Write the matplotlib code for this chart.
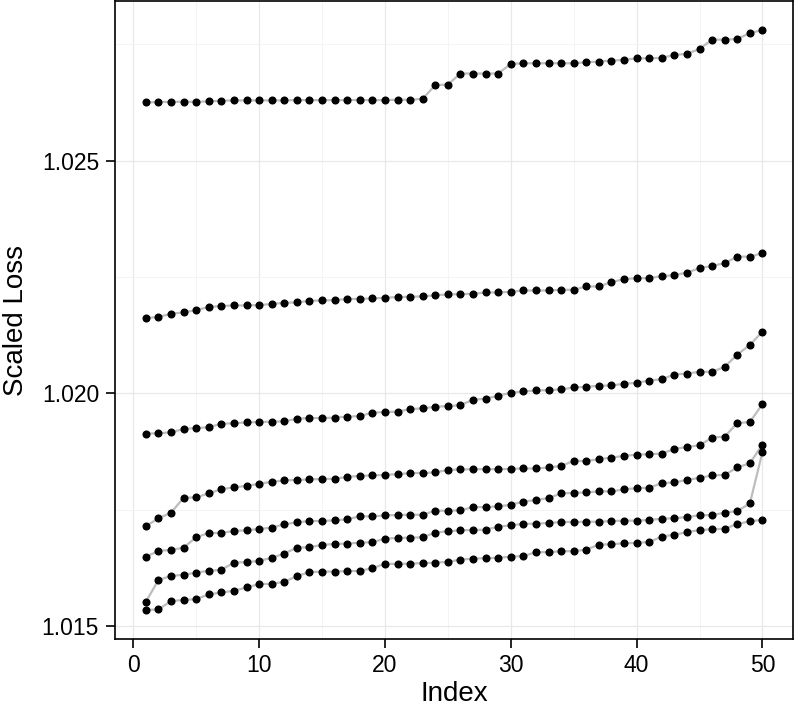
import matplotlib
matplotlib.use("Agg")
import matplotlib.pyplot as plt
from matplotlib.ticker import MultipleLocator, FormatStrFormatter

index = list(range(1, 51))

s1 = [1.026253, 1.026260, 1.026267, 1.026267, 1.026267, 1.026274, 1.026289, 1.026296, 1.026296, 1.026296,
      1.026296, 1.026296, 1.026303, 1.026303, 1.026303, 1.026303, 1.026303, 1.026303, 1.026303, 1.026303,
      1.026310, 1.026310, 1.026331, 1.026624, 1.026638, 1.026874, 1.026874, 1.026874, 1.026874, 1.027081,
      1.027094, 1.027094, 1.027094, 1.027094, 1.027094, 1.027116, 1.027131, 1.027152, 1.027167, 1.027201,
      1.027201, 1.027210, 1.027274, 1.027296, 1.027403, 1.027602, 1.027602, 1.027617, 1.027745, 1.027809]
s2 = [1.021621, 1.021642, 1.021713, 1.021741, 1.021792, 1.021857, 1.021878, 1.021891, 1.021891, 1.021899,
      1.021921, 1.021949, 1.021955, 1.021991, 1.021998, 1.022006, 1.022028, 1.022034, 1.022041, 1.022056,
      1.022071, 1.022077, 1.022084, 1.022113, 1.022126, 1.022135, 1.022141, 1.022169, 1.022169, 1.022184,
      1.022212, 1.022212, 1.022212, 1.022227, 1.022227, 1.022298, 1.022298, 1.022392, 1.022456, 1.022478,
      1.022478, 1.022520, 1.022542, 1.022597, 1.022692, 1.022741, 1.022799, 1.022940, 1.022940, 1.023013]
s3 = [1.019137, 1.019143, 1.019165, 1.019236, 1.019257, 1.019272, 1.019351, 1.019358, 1.019379, 1.019385,
      1.019394, 1.019400, 1.019458, 1.019471, 1.019471, 1.019480, 1.019501, 1.019514, 1.019587, 1.019600,
      1.019608, 1.019664, 1.019679, 1.019715, 1.019728, 1.019749, 1.019865, 1.019887, 1.019951, 1.020015,
      1.020043, 1.020064, 1.020071, 1.020086, 1.020128, 1.020143, 1.020165, 1.020171, 1.020208, 1.020229,
      1.020278, 1.020306, 1.020407, 1.020428, 1.020465, 1.020465, 1.020572, 1.020835, 1.021043, 1.021328]
s4 = [1.017146, 1.017317, 1.017437, 1.017758, 1.017767, 1.017852, 1.017944, 1.017981, 1.018015, 1.018058,
      1.018101, 1.018131, 1.018143, 1.018152, 1.018165, 1.018165, 1.018208, 1.018229, 1.018238, 1.018251,
      1.018266, 1.018287, 1.018293, 1.018302, 1.018358, 1.018366, 1.018373, 1.018373, 1.018373, 1.018379,
      1.018388, 1.018388, 1.018409, 1.018443, 1.018550, 1.018550, 1.018587, 1.018623, 1.018657, 1.018687,
      1.018694, 1.018709, 1.018807, 1.018850, 1.018887, 1.019051, 1.019073, 1.019364, 1.019385, 1.019771]
s5 = [1.016488, 1.016617, 1.016638, 1.016687, 1.016910, 1.017002, 1.017002, 1.017045, 1.017060, 1.017088,
      1.017116, 1.017188, 1.017231, 1.017259, 1.017259, 1.017274, 1.017296, 1.017360, 1.017360, 1.017381,
      1.017388, 1.017394, 1.017394, 1.017480, 1.017480, 1.017488, 1.017559, 1.017559, 1.017574, 1.017608,
      1.017677, 1.017709, 1.017752, 1.017852, 1.017865, 1.017874, 1.017895, 1.017895, 1.017938, 1.017966,
      1.017972, 1.018073, 1.018088, 1.018143, 1.018186, 1.018238, 1.018251, 1.018409, 1.018501, 1.018901]
s6 = [1.015525, 1.015989, 1.016081, 1.016103, 1.016152, 1.016188, 1.016210, 1.016366, 1.016375, 1.016403,
      1.016467, 1.016559, 1.016687, 1.016696, 1.016745, 1.016767, 1.016773, 1.016794, 1.016803, 1.016880,
      1.016895, 1.016901, 1.016910, 1.017009, 1.017039, 1.017060, 1.017066, 1.017073, 1.017137, 1.017167,
      1.017199, 1.017201, 1.017216, 1.017238, 1.017238, 1.017244, 1.017244, 1.017259, 1.017266, 1.017266,
      1.017281, 1.017309, 1.017317, 1.017345, 1.017381, 1.017388, 1.017437, 1.017473, 1.017638, 1.018743]
s7 = [1.015347, 1.015360, 1.015540, 1.015561, 1.015583, 1.015681, 1.015724, 1.015760, 1.015831, 1.015904,
      1.015910, 1.015953, 1.016075, 1.016161, 1.016173, 1.016173, 1.016182, 1.016188, 1.016246, 1.016338,
      1.016338, 1.016345, 1.016353, 1.016366, 1.016381, 1.016430, 1.016452, 1.016460, 1.016467, 1.016495,
      1.016505, 1.016589, 1.016589, 1.016610, 1.016610, 1.016645, 1.016752, 1.016760, 1.016782, 1.016788,
      1.016809, 1.016923, 1.016966, 1.017017, 1.017066, 1.017081, 1.017094, 1.017195, 1.017253, 1.017287]

series = [s1, s2, s3, s4, s5, s6, s7]
x_ticks = [0, 10, 20, 30, 40, 50]
y_ticks = [1.015, 1.020, 1.025]

plt.rcParams['font.family'] = ['Liberation Sans', 'DejaVu Sans']

fig = plt.figure(figsize=(7.94, 7.17), dpi=100)
ax = fig.add_axes([115 / 794, 78 / 717, (793.3 - 115) / 794, (716 - 78) / 717])

for s in series:
    ax.plot(index, s, color='#bdbdbd', lw=1.6, zorder=2)
    ax.plot(index, s, linestyle='none', marker='o', ms=4.8, mfc='black', mec='black', zorder=3)

allv = [v for s in series for v in s]
lo, hi = min(allv), max(allv)
pad = 0.05 * (hi - lo)
ax.set_ylim(lo - pad, hi + pad)
xpad = 0.05 * (max(index) - min(index))
ax.set_xlim(min(index) - xpad, max(index) + xpad)

ax.set_xticks(x_ticks)
ax.set_yticks(y_ticks)
ax.yaxis.set_major_formatter(FormatStrFormatter('%.3f'))
ax.xaxis.set_minor_locator(MultipleLocator(5))
ax.yaxis.set_minor_locator(MultipleLocator(0.0025))
ax.grid(True, which='major', color='#e8e8e8', lw=0.9, zorder=0)
ax.grid(True, which='minor', color='#f3f3f3', lw=0.6, zorder=0)
ax.set_axisbelow(True)

ax.tick_params(which='major', direction='out', length=6.5, width=1.2, color='black',
               labelsize=16.5)
ax.tick_params(axis='x', which='major', pad=4)
ax.tick_params(axis='y', which='major', pad=5)
ax.tick_params(which='minor', length=0)
for sp in ax.spines.values():
    sp.set_color('black')
    sp.set_linewidth(1.2)

ax.set_xlabel('Index', fontsize=20)
ax.set_ylabel('Scaled Loss', fontsize=20)
ax.xaxis.label.set_va('center')
ax.yaxis.label.set_va('center')
ax.xaxis.set_label_coords(0.5, (639 - 694) / 638)
ax.yaxis.set_label_coords((16 - 115) / 678.3, 0.5)

fig.savefig('out.png', dpi=100)
